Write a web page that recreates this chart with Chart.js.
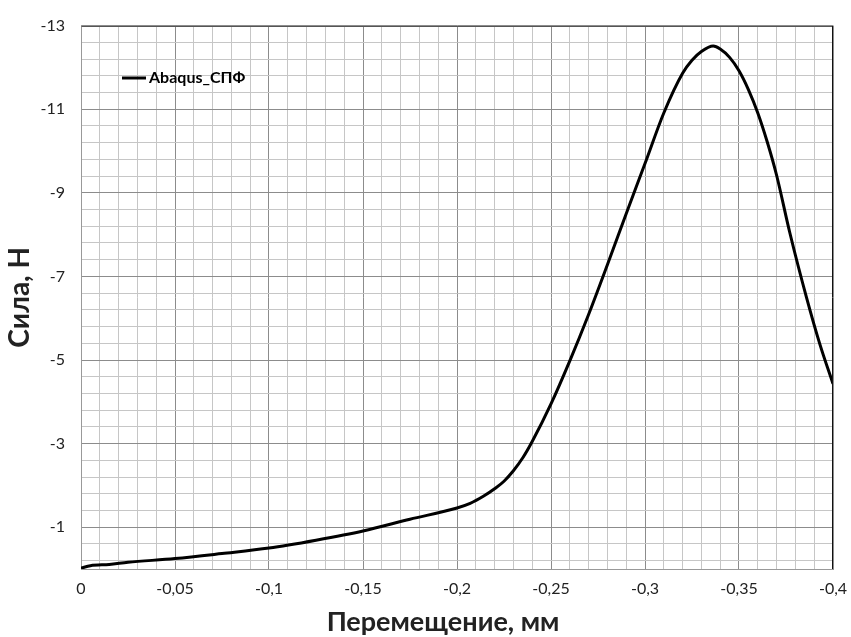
<!DOCTYPE html>
<html lang="ru">
<head>
    <meta charset="UTF-8">
    <title>Сила - Перемещение</title>
    <script src="https://cdn.jsdelivr.net/npm/chart.js"></script>
    <style>
        html, body { margin: 0; padding: 0; background: #fff; }
        #wrap { width: 851px; height: 637px; position: relative; }
    </style>
</head>
<body>
    <div id="wrap"><canvas id="forceChart" width="851" height="637"></canvas></div>

    <script>
        // Displacement (mm) and force (N)
        const displacement = [0, -0.005, -0.015, -0.025, -0.05, -0.075, -0.1, -0.125, -0.15, -0.175,
            -0.2, -0.207, -0.214, -0.22, -0.225, -0.23, -0.235, -0.24, -0.25, -0.26, -0.27, -0.28, -0.29, -0.30,
            -0.31, -0.32, -0.325, -0.33, -0.3363, -0.34, -0.345, -0.35, -0.355, -0.36, -0.365, -0.37,
            -0.377, -0.386, -0.393, -0.4];
        const force = [-0.02, -0.08, -0.11, -0.16, -0.25, -0.37, -0.50, -0.69, -0.91, -1.19,
            -1.46, -1.57, -1.74, -1.92, -2.1, -2.35, -2.66, -3.05, -3.95, -4.98, -6.09, -7.28, -8.5, -9.7,
            -10.91, -11.86, -12.17, -12.38, -12.51, -12.44, -12.24, -11.92, -11.47, -10.91, -10.22, -9.42,
            -8.05, -6.48, -5.38, -4.43];

        const seriesName = "Abaqus_СПФ";
        const xTitle = "Перемещение, мм";
        const yTitle = "Сила, Н";

        // axis ranges and grid steps
        const xMin = -0.4, xMax = 0, xMinor = 0.01, xMajor = 0.05;
        const yMin = -13, yMax = 0, yMinor = 0.4, yMajor = 2;

        const FONT = "Lato, 'Liberation Sans', sans-serif";

        function isMultiple(v, base, step) {
            const k = (v - base) / step;
            return Math.abs(k - Math.round(k)) < 1e-6;
        }

        function fmt(v) {
            return String(+v.toFixed(3)).replace(".", ",");
        }

        // Draw legend inside the plot, the top/right frame and the x title
        const extras = {
            id: "extras",
            afterDraw(chart) {
                const ctx = chart.ctx;
                const a = chart.chartArea;
                ctx.save();
                ctx.strokeStyle = "#555";
                ctx.lineWidth = 1;
                ctx.beginPath();
                ctx.moveTo(Math.round(a.left) + 0.5, Math.round(a.top) + 0.5);
                ctx.lineTo(Math.round(a.right) - 0.5, Math.round(a.top) + 0.5);
                ctx.stroke();
                ctx.strokeStyle = "#111";
                ctx.beginPath();
                ctx.moveTo(Math.round(a.right) - 0.5, Math.round(a.top));
                ctx.lineTo(Math.round(a.right) - 0.5, Math.round(a.bottom));
                ctx.stroke();

                // legend
                ctx.strokeStyle = "#000";
                ctx.lineWidth = 3;
                ctx.beginPath();
                ctx.moveTo(122, 78);
                ctx.lineTo(146, 78);
                ctx.stroke();
                ctx.fillStyle = "#000";
                ctx.font = "bold 16px " + FONT;
                ctx.textBaseline = "middle";
                ctx.fillText(chart.data.datasets[0].label, 149, 78);

                // x axis title, centred on the whole chart like Excel does
                ctx.fillStyle = "#222";
                ctx.font = "bold 27px " + FONT;
                ctx.textAlign = "center";
                ctx.fillText(xTitle, 443, 622);
                ctx.restore();
            }
        };

        new Chart(document.getElementById("forceChart"), {
            type: "line",
            data: {
                datasets: [{
                    label: seriesName,
                    data: displacement.map((x, i) => ({ x: x, y: force[i] })),
                    borderColor: "#000",
                    borderWidth: 3,
                    pointRadius: 0,
                    fill: false,
                    cubicInterpolationMode: "monotone"
                }]
            },
            options: {
                responsive: false,
                animation: false,
                devicePixelRatio: 1,
                layout: { padding: { top: 22, right: 18, left: 0, bottom: 0 } },
                plugins: { legend: { display: false }, tooltip: { enabled: false } },
                scales: {
                    x: {
                        type: "linear",
                        min: xMin,
                        max: xMax,
                        reverse: true,
                        afterBuildTicks(scale) {
                            const t = [];
                            for (let i = 0; i <= Math.round((xMax - xMin) / xMinor); i++) {
                                t.push({ value: +(xMax - i * xMinor).toFixed(4) });
                            }
                            scale.ticks = t;
                        },
                        afterFit(scale) {
                            scale.height = 68;
                            scale.paddingLeft = 0;
                            scale.paddingRight = 0;
                        },
                        ticks: {
                            autoSkip: false,
                            maxRotation: 0,
                            padding: 10,
                            color: "#222",
                            font: { family: FONT, size: 16 },
                            callback: (v) => isMultiple(v, 0, xMajor) ? fmt(v) : ""
                        },
                        grid: {
                            drawTicks: false,
                            color: (c) => isMultiple(c.tick.value, 0, xMajor) ? "#8c8c8c" : "#c6c6c6"
                        },
                        border: { color: "#999", width: 1 },
                        title: { display: false }
                    },
                    y: {
                        type: "linear",
                        min: yMin,
                        max: yMax,
                        reverse: true,
                        afterBuildTicks(scale) {
                            const t = [];
                            for (let v = yMin; v < yMax - 1e-6; v += yMinor) {
                                t.push({ value: +v.toFixed(4) });
                            }
                            t.push({ value: yMax });
                            scale.ticks = t;
                        },
                        afterFit(scale) { scale.width = 81; },
                        ticks: {
                            autoSkip: false,
                            padding: 16,
                            color: "#222",
                            font: { family: FONT, size: 16 },
                            callback: (v) => (v !== yMax && isMultiple(v, yMin, yMajor)) ? fmt(v) : ""
                        },
                        grid: {
                            drawTicks: false,
                            color: (c) => isMultiple(c.tick.value, yMin, yMajor) ? "#8c8c8c" : "#c6c6c6"
                        },
                        border: { color: "#999", width: 1 },
                        title: {
                            display: true,
                            text: yTitle,
                            color: "#222",
                            font: { family: FONT, size: 28, weight: "bold" },
                            padding: { top: 3, bottom: 0 }
                        }
                    }
                }
            },
            plugins: [extras]
        });
    </script>
</body>
</html>
